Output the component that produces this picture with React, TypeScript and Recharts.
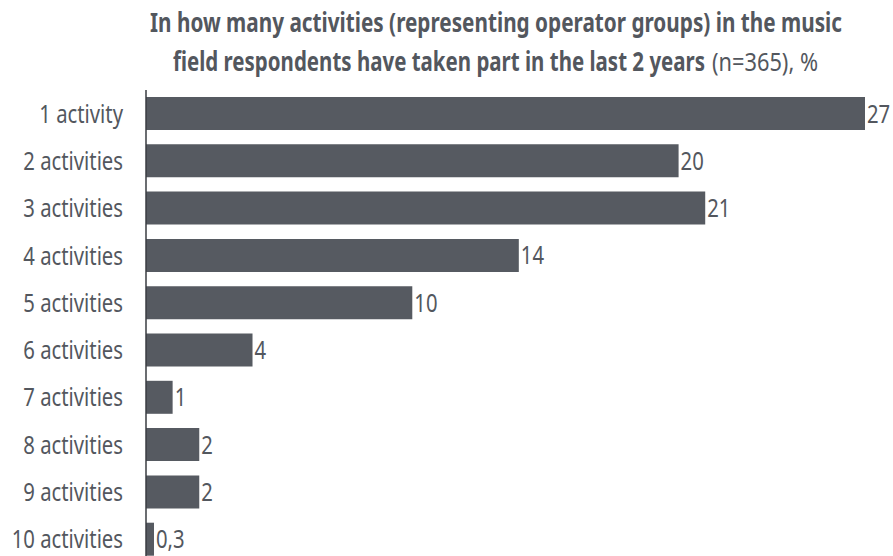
import { Bar, BarChart, LabelList, XAxis, YAxis } from "recharts";

const categories = [
  "1 activity",
  "2 activities",
  "3 activities",
  "4 activities",
  "5 activities",
  "6 activities",
  "7 activities",
  "8 activities",
  "9 activities",
  "10 activities",
];

const shares = [27, 20, 21, 14, 10, 4, 1, 2, 2, 0.3];

const titleLine1 = "In how many activities (representing operator groups) in the music";
const titleLine2Bold = "field respondents have taken part in the last 2 years";
const titleLine2Rest = "(n=365), %";

const chartData = categories.map((label, i) => ({ label, share: shares[i] }));

const font = '"Noto Sans", "Open Sans", sans-serif';
const ink = "#53575e";
const barColor = "#565a61";
const squeeze = 0.78;

function CategoryTick({ x, y, payload }: any) {
  return (
    <text
      transform={`translate(${x - 15},${y + 9}) scale(${squeeze},1)`}
      textAnchor="end"
      fill={ink}
      fontSize={26}
      fontFamily={font}
    >
      {payload.value}
    </text>
  );
}

function ValueLabel({ x, y, width, height, value }: any) {
  const text = String(value).replace(".", ",");
  return (
    <text
      transform={`translate(${x + width + 2},${y + height / 2 + 9}) scale(${squeeze},1)`}
      textAnchor="start"
      fill={ink}
      fontSize={26}
      fontFamily={font}
    >
      {text}
    </text>
  );
}

export default function App() {
  return (
    <div style={{ position: "absolute", left: 0, top: 0, width: 893, height: 556, overflow: "hidden", background: "#fff" }}>
      <svg width={893} height={90} style={{ position: "absolute", left: 0, top: 0 }}>
        <text x={150} y={32} fill={ink} fontFamily={font} fontSize={26} fontWeight="bold" textLength={692} lengthAdjust="spacingAndGlyphs">
          {titleLine1}
        </text>
        <text x={173} y={71} fill={ink} fontFamily={font} fontSize={26} fontWeight="bold" textLength={532} lengthAdjust="spacingAndGlyphs">
          {titleLine2Bold}
        </text>
        <text x={712} y={71} fill={ink} fontFamily={font} fontSize={25} textLength={106} lengthAdjust="spacingAndGlyphs">
          {titleLine2Rest}
        </text>
      </svg>
      <div style={{ position: "absolute", left: 0, top: 0 }}>
        <BarChart
          width={893}
          height={563}
          data={chartData}
          layout="vertical"
          margin={{ top: 90, right: 28, bottom: 0, left: 0 }}
          barSize={33}
        >
          <XAxis type="number" domain={[0, 27]} hide />
          <YAxis
            type="category"
            dataKey="label"
            width={146}
            tickLine={false}
            axisLine={{ stroke: "#3a3d42", strokeWidth: 1.5 }}
            tick={<CategoryTick />}
            interval={0}
          />
          <Bar dataKey="share" fill={barColor} isAnimationActive={false}>
            <LabelList dataKey="share" content={<ValueLabel />} />
          </Bar>
        </BarChart>
      </div>
    </div>
  );
}
